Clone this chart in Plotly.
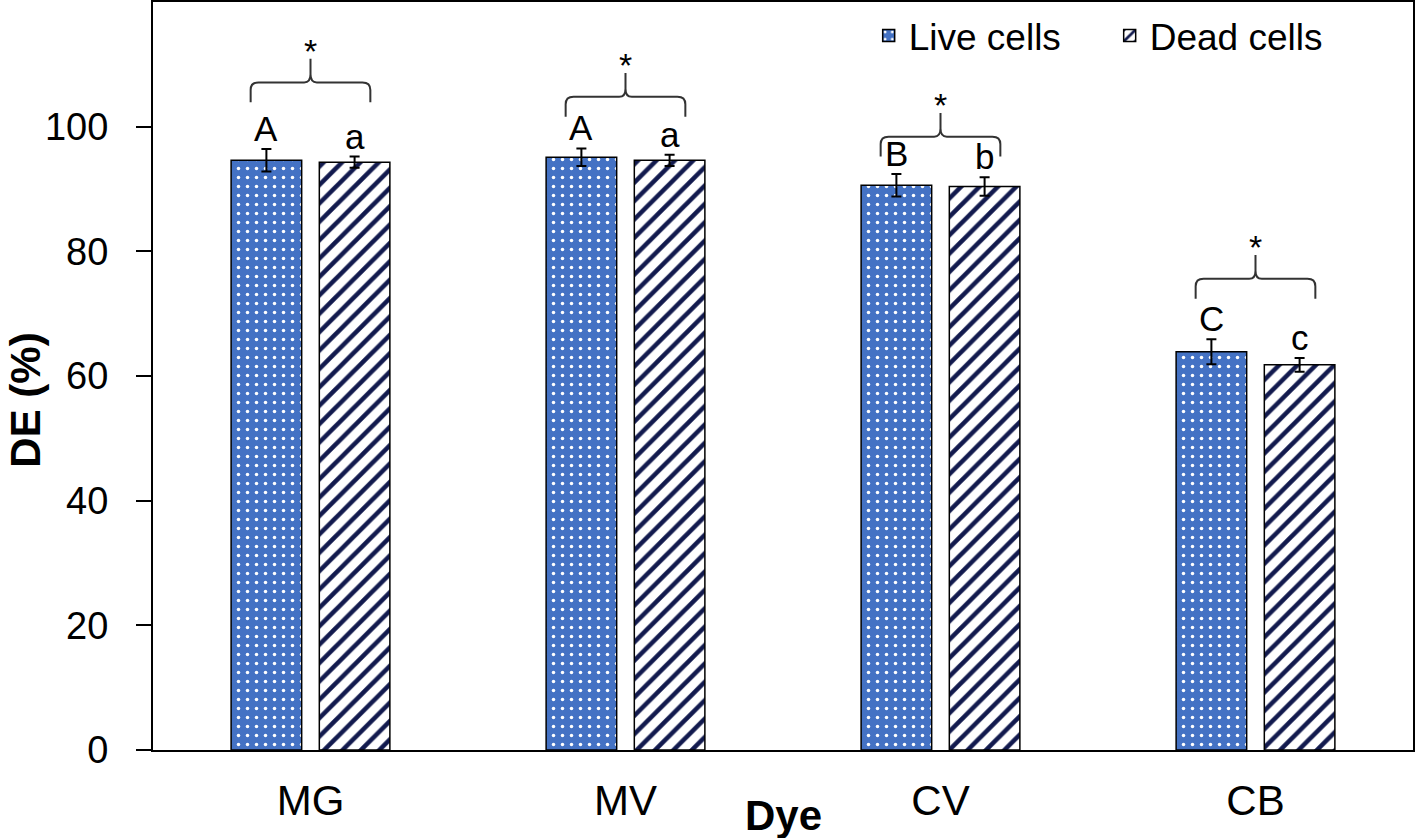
import plotly.graph_objects as go

# data
dyes = ["MG", "MV", "CV", "CB"]
live = [94.6, 95.1, 90.6, 63.9]
live_err = [1.8, 1.4, 1.8, 2.0]
dead = [94.3, 94.6, 90.4, 61.8]
dead_err = [0.9, 0.9, 1.5, 1.1]
live_letters = ["A", "A", "B", "C"]
dead_letters = ["a", "a", "b", "c"]
bracket_base = [103.9, 101.6, 95.2, 72.4]

FONT = "Liberation Sans, Arial, sans-serif"
BLUE = "#4472C4"
NAVY = "#121A4E"
bargap = 0.44
half_slot = (1 - bargap) / 4

xs = list(range(len(dyes)))

fig = go.Figure()
fig.add_trace(go.Bar(
    x=xs, y=live, name="Live cells",
    marker=dict(color=BLUE, line=dict(color="black", width=1.5),
                pattern=dict(shape=".", fgcolor="white", bgcolor=BLUE, fgopacity=1,
                             size=9, solidity=0.12)),
    error_y=dict(type="data", array=live_err, color="black", thickness=2, width=5),
))
fig.add_trace(go.Bar(
    x=xs, y=dead, name="Dead cells",
    marker=dict(color="white", line=dict(color="black", width=1.5),
                pattern=dict(shape="/", fgcolor=NAVY, bgcolor="white", fgopacity=1,
                             size=13, solidity=0.35)),
    error_y=dict(type="data", array=dead_err, color="black", thickness=2, width=5),
))

annotations = []
shapes = []
for i in xs:
    # significance letters above each bar
    annotations.append(dict(x=i - half_slot, y=live[i] + live_err[i], text=live_letters[i],
                            showarrow=False, yanchor="bottom", yshift=-1,
                            font=dict(size=35, color="black", family=FONT)))
    annotations.append(dict(x=i + half_slot, y=dead[i] + dead_err[i], text=dead_letters[i],
                            showarrow=False, yanchor="bottom", yshift=-1,
                            font=dict(size=35, color="black", family=FONT)))
    # curly bracket + asterisk
    yb = bracket_base[i]
    yh = yb + 3.2
    yp = yb + 7.0
    L, R = i - 0.19, i + 0.19
    path = (f"M {L},{yb} L {L},{yh-1.2} Q {L},{yh} {L+0.025},{yh} L {i-0.02},{yh} "
            f"Q {i},{yh} {i},{yh+1.3} L {i},{yp} M {i},{yh+1.3} Q {i},{yh} {i+0.02},{yh} "
            f"L {R-0.025},{yh} Q {R},{yh} {R},{yh-1.2} L {R},{yb}")
    shapes.append(dict(type="path", path=path, xref="x", yref="y",
                       line=dict(color="#333333", width=2)))
    annotations.append(dict(x=i, y=yp, text="*", showarrow=False, yanchor="bottom", yshift=-13,
                            font=dict(size=34, color="black", family=FONT)))

annotations.append(dict(x=0.5, y=-0.087, xref="paper", yref="paper", text="<b>Dye</b>",
                        showarrow=False, yanchor="middle",
                        font=dict(size=42, color="black", family=FONT)))
annotations.append(dict(x=-0.101, y=0.468, xref="paper", yref="paper", text="<b>DE (%)</b>",
                        showarrow=False, textangle=-90, xanchor="center", yanchor="middle",
                        font=dict(size=42, color="black", family=FONT)))

fig.update_layout(
    width=1418, height=838,
    margin=dict(l=153, r=5, t=2, b=88, autoexpand=False),
    paper_bgcolor="white", plot_bgcolor="white",
    barmode="group", bargap=bargap, bargroupgap=0.2,
    font=dict(family=FONT, color="black", size=38),
    showlegend=True,
    legend=dict(orientation="h", x=0.568, y=0.996, xanchor="left", yanchor="top",
                font=dict(size=37, family=FONT), bgcolor="rgba(0,0,0,0)",
                entrywidth=196, entrywidthmode="pixels", itemwidth=30, tracegroupgap=0),
    shapes=shapes, annotations=annotations,
)
fig.update_xaxes(range=[-0.5, 3.5], tickvals=xs, ticktext=dyes, ticks="",
                 showline=True, linecolor="black", linewidth=2, mirror=True,
                 showgrid=False, zeroline=False, ticklabelstandoff=13, automargin=False,
                 tickfont=dict(size=42, family=FONT))
fig.update_yaxes(range=[0, 120], tickvals=[0, 20, 40, 60, 80, 100], ticks="outside",
                 ticklen=15, tickwidth=2, tickcolor="black", ticklabelstandoff=20,
                 ticklabelposition="outside",
                 showline=True, linecolor="black", linewidth=2, mirror=True,
                 showgrid=False, zeroline=False, automargin=False,
                 tickfont=dict(size=38, family=FONT))

# page body has a default 8px margin; drop it so the figure sits at the window's corner
fig.write_html("out.html", config={"displayModeBar": False},
               post_script="document.body.style.margin='0';")
